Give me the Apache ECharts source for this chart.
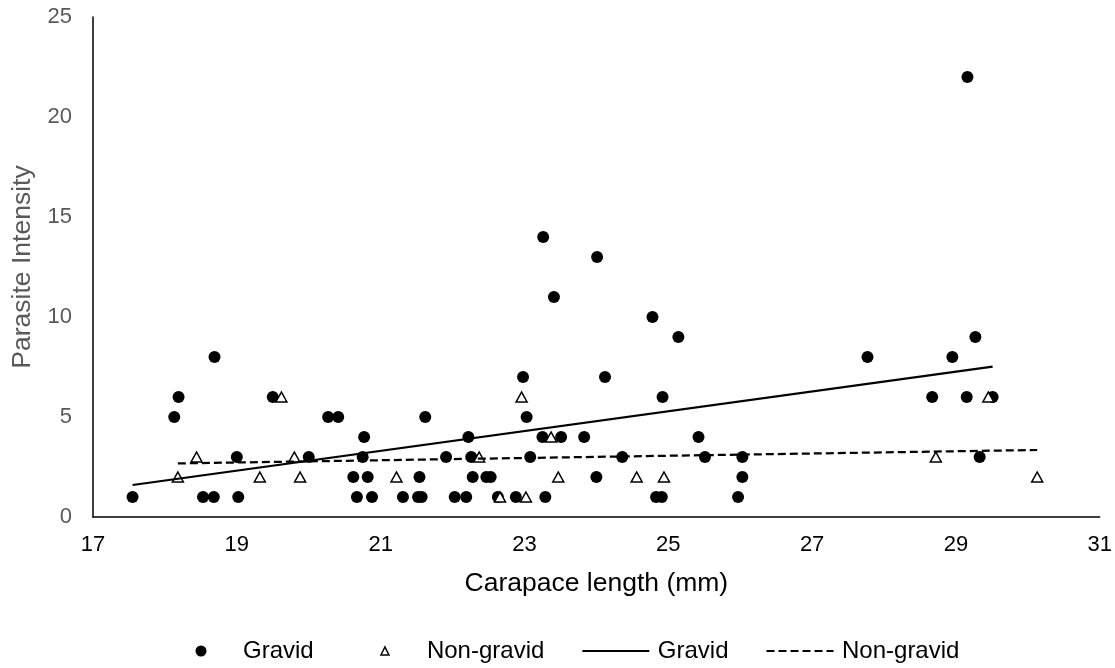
<!DOCTYPE html>
<html>
<head>
<meta charset="utf-8">
<script src="https://cdn.jsdelivr.net/npm/echarts@6/dist/echarts.min.js"></script>
<style>
html,body{margin:0;padding:0;background:#fff;}
#chart{width:1115px;height:668px;}
</style>
</head>
<body>
<div id="chart"></div>
<script>
// Gravid (filled circles)
var gravidX = [17.55,18.13,18.19,18.53,18.68,18.69,19.00,19.02,19.50,20.00,20.27,20.41,20.62,20.67,20.75,20.77,20.82,20.88,21.31,21.52,21.54,21.57,21.62,21.91,22.03,22.19,22.22,22.26,22.28,22.47,22.53,22.63,22.88,22.98,23.03,23.08,23.25,23.26,23.29,23.41,23.51,23.83,24.00,24.01,24.12,24.36,24.78,24.83,24.91,24.92,25.14,25.42,25.51,25.97,26.03,26.03,27.77,28.67,28.95,29.15,29.16,29.27,29.33,29.51];
var gravidY = [1,5,6,1,1,8,3,1,6,3,5,5,2,1,3,4,2,1,1,1,2,1,5,3,1,1,4,3,2,2,2,1,1,7,5,3,4,14,1,11,4,4,2,13,7,3,10,1,1,6,9,4,3,1,2,3,8,6,8,6,22,9,3,6];
// Non-gravid (open triangles)
var nonGravidX = [18.18,18.44,19.32,19.62,19.80,19.88,21.22,22.37,22.66,22.96,23.02,23.37,23.47,24.56,24.94,28.72,29.45,30.13];
var nonGravidY = [2,3,2,6,3,2,2,3,1,6,1,4,2,2,2,3,6,2];
// Linear trend lines (endpoints)
var gravidTrendX = [17.55, 29.51];
var gravidTrendY = [1.60, 7.52];
var nonGravidTrendX = [18.18, 30.13];
var nonGravidTrendY = [2.68, 3.35];
// Axis ticks
var xMin = 17, xMax = 31, yMin = 0, yMax = 25, yStep = 5;

function zip(xs, ys){ return xs.map(function(x,i){ return [x, ys[i]]; }); }

var FONT = '"Liberation Sans", Arial, sans-serif';
// small triangle centred in a 67x11 legend box (move points set the box)
var TRI_ICON = 'path://M0,0M67,11M29.5,9.5L33.5,1.5L37.5,9.5Z';
var chart = echarts.init(document.getElementById('chart'), null, {renderer:'canvas'});
chart.setOption({
  animation: false,
  backgroundColor: '#fff',
  grid: {left: 93, right: 15, top: 17, bottom: 151, containLabel: false},
  xAxis: {
    type: 'value', min: xMin, max: xMax, interval: 1,
    name: 'Carapace length (mm)', nameLocation: 'middle', nameGap: 53,
    nameTextStyle: {color: '#000', fontSize: 26.5, fontFamily: FONT},
    axisLine: {show: true, onZero: false, lineStyle: {color: '#000', width: 1.5}},
    axisTick: {show: false},
    splitLine: {show: false},
    axisLabel: {color: '#000', fontSize: 22, fontFamily: FONT, margin: 17,
      formatter: function(v){ return (Math.round(v) % 2 === 1) ? String(v) : ''; }}
  },
  yAxis: {
    type: 'value', min: yMin, max: yMax, interval: yStep,
    name: 'Parasite Intensity', nameLocation: 'middle', nameGap: 50,
    nameTextStyle: {color: '#595959', fontSize: 26.5, fontFamily: FONT},
    axisLine: {show: true, onZero: false, lineStyle: {color: '#000', width: 1.5}},
    axisTick: {show: false},
    splitLine: {show: false},
    axisLabel: {color: '#595959', fontSize: 22, fontFamily: FONT, margin: 21}
  },
  legend: {
    top: 634, left: 190.5,
    itemWidth: 67, itemHeight: 11, itemGap: 37,
    symbolKeepAspect: true,
    textStyle: {color: '#000', fontSize: 24, fontFamily: FONT, padding: [0,0,0,3.5]},
    formatter: function(n){ return n.replace(' trend', ''); },
    data: [
      {name: 'Gravid', icon: 'circle'},
      {name: 'Non-gravid', icon: TRI_ICON, itemStyle: {color: '#fff', borderColor: '#000', borderWidth: 1.5}},
      {name: 'Gravid trend', itemStyle: {opacity: 0}},
      {name: 'Non-gravid trend', itemStyle: {opacity: 0}}
    ]
  },
  series: [
    {
      name: 'Gravid', type: 'scatter', data: zip(gravidX, gravidY),
      symbol: 'circle', symbolSize: 12,
      itemStyle: {color: '#000', opacity: 1}
    },
    {
      name: 'Non-gravid', type: 'scatter', data: zip(nonGravidX, nonGravidY),
      symbol: 'triangle', symbolSize: [11, 10],
      itemStyle: {color: '#fff', borderColor: '#000', borderWidth: 1.5, opacity: 1}
    },
    {
      name: 'Gravid trend', type: 'line', data: zip(gravidTrendX, gravidTrendY),
      symbol: 'none', lineStyle: {color: '#000', width: 2.25, type: 'solid'},
      itemStyle: {color: '#000'}, z: 3
    },
    {
      name: 'Non-gravid trend', type: 'line', data: zip(nonGravidTrendX, nonGravidTrendY),
      symbol: 'none', lineStyle: {color: '#000', width: 2.25, type: [8, 4]},
      itemStyle: {color: '#000'}, z: 3
    }
  ]
});
</script>
</body>
</html>
